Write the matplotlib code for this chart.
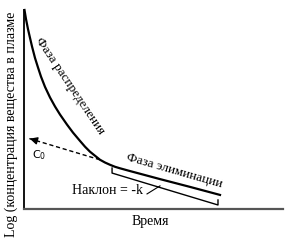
import numpy as np
import matplotlib
matplotlib.use("Agg")
import matplotlib.pyplot as plt

plt.rcParams['font.family'] = ['Liberation Serif', 'DejaVu Serif']

# кривая концентрации (время, log C)
curve_t = [0.019, 0.077, 0.154, 0.232, 0.309, 0.425, 0.541, 0.656, 0.811, 1.004, 1.197, 1.390,
           1.660, 1.892, 2.162, 2.355, 2.548, 2.741, 2.934, 3.127, 3.320, 3.514, 3.707, 4.093,
           5.251, 6.409, 7.568]
curve_c = [7.92, 7.56, 7.16, 6.81, 6.47, 6.01, 5.63, 5.27, 4.86, 4.44, 4.08, 3.76,
           3.36, 3.04, 2.71, 2.48, 2.28, 2.12, 1.96, 1.85, 1.76, 1.68, 1.62, 1.51,
           1.19, 0.88, 0.56]

# экстраполяция к C0 (пунктир)
dash_t = [2.93, 0.12]
dash_c = [1.96, 2.83]

# скобка под фазой элиминации
bracket_t = [3.40, 3.40, 7.49, 7.49]
bracket_c = [1.63, 1.43, 0.16, 0.36]

# выноска к надписи "Наклон"
leader_t = [4.75, 5.25]
leader_c = [0.60, 0.92]

fig = plt.figure(figsize=(2.9, 2.44), dpi=100)
ax = fig.add_axes([24/290, 35/244, 259/290, 199/244])
ax.set_xlim(0, 10)
ax.set_ylim(0, 7.92)
ax.set_xticks([])
ax.set_yticks([])
for s in ['top', 'right']:
    ax.spines[s].set_visible(False)
ax.spines['left'].set_linewidth(1.3)
ax.spines['bottom'].set_linewidth(1.6)
ax.spines['bottom'].set_color('#555555')

ax.plot(curve_t, curve_c, color='black', lw=1.6, solid_joinstyle='round', clip_on=False)
ax.plot(dash_t, dash_c, color='black', lw=1, ls=(0, (3, 2)))
ax.annotate('', xy=(dash_t[1], dash_c[1]), xytext=(dash_t[1] + 0.4, dash_c[1] - 0.12),
            arrowprops=dict(arrowstyle='-|>', color='black', lw=1, mutation_scale=11))
ax.plot(bracket_t, bracket_c, color='black', lw=1)
ax.plot(leader_t, leader_c, color='black', lw=0.8)

ax.text(0.31, 2.15, 'C$_0$', family='DejaVu Sans', fontsize=8, ha='left', va='center')
ax.text(4.6, 0.72, 'Наклон = -k', fontsize=10, ha='right', va='center')
ax.text(1.78, 4.9, 'Фаза распределения', fontsize=9.5, rotation=-56,
        ha='center', va='center', rotation_mode='anchor')
ax.text(5.79, 1.51, 'Фаза элиминации', fontsize=9.5, rotation=-16,
        ha='center', va='center', rotation_mode='anchor')

fig.text(150/290, 1 - 221/244, 'Время', fontsize=10, ha='center', va='center')
fig.text(11.5/290, 1 - 124/244, 'Log (концентрация вещества в плазме', fontsize=10,
         rotation=90, ha='center', va='center')

fig.savefig('out.png', dpi=100)
